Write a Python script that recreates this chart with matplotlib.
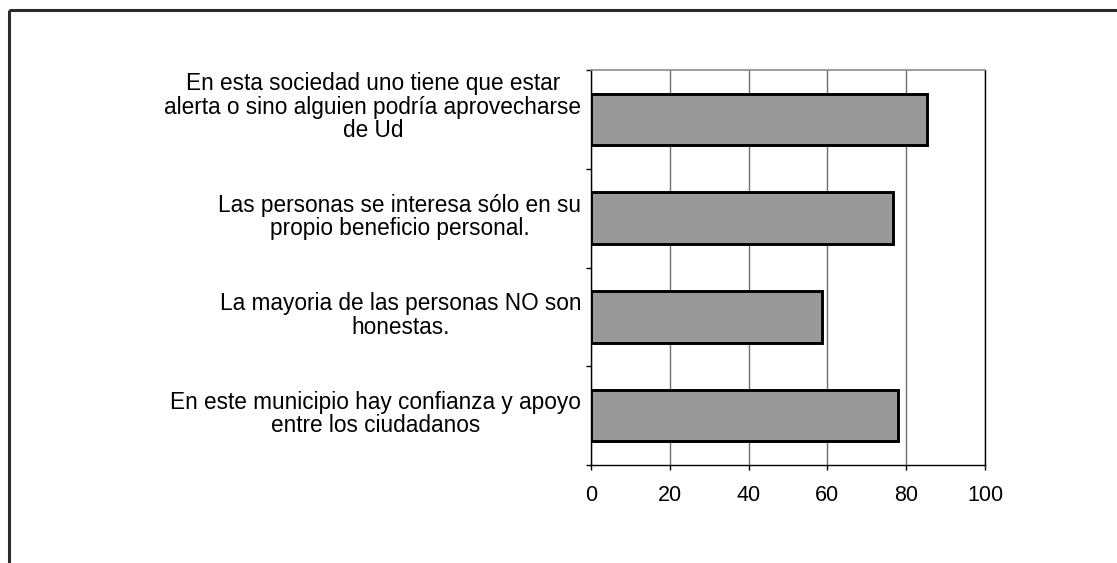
import matplotlib
matplotlib.use("Agg")
import matplotlib.pyplot as plt
import matplotlib.transforms as mtransforms
from matplotlib.lines import Line2D

categories = [
    "En esta sociedad uno tiene que estar\nalerta o sino alguien podría aprovecharse\nde Ud",
    "Las personas se interesa sólo en su\npropio beneficio personal.",
    "La mayoria de las personas NO son\nhonestas.",
    "En este municipio hay confianza y apoyo\nentre los ciudadanos",
]
values = [85.3, 76.7, 58.7, 78.0]
xticks = [0, 20, 40, 60, 80, 100]

plt.rcParams['font.family'] = ['Liberation Sans', 'DejaVu Sans']

fig = plt.figure(figsize=(11.17, 5.63), dpi=100)
W, H = 1117, 563
ax = fig.add_axes([591 / W, 1 - 465 / H, (985 - 591) / W, (465 - 70) / H])

pos = list(range(len(categories)))
ax.barh(pos, values, height=0.52, color='#999999', edgecolor='black', linewidth=2.1, zorder=3)

ax.set_xlim(0, 100)
ax.set_ylim(len(categories) - 0.5, -0.5)
ax.set_xticks(xticks)
ax.set_xticklabels([str(t) for t in xticks], fontsize=15.5)
ax.tick_params(axis='x', direction='out', length=3.5, width=1, pad=11, colors='black')
ax.xaxis.grid(True, color='#6e6e6e', linewidth=1, zorder=0)

ax.set_yticks(pos)
ax.set_yticklabels(categories, fontsize=16.3, multialignment='center', ha='right',
                   linespacing=1.02)
ax.tick_params(axis='y', which='major', length=0, pad=7)
ax.set_yticks([p - 0.5 for p in pos] + [len(pos) - 0.5], minor=True)
ax.tick_params(axis='y', which='minor', direction='out', length=3.5, width=1, color='black')

# shift labels slightly upward (first label more)
for i, lab in enumerate(ax.get_yticklabels()):
    dy = 15 if i == 0 else 4
    lab.set_transform(lab.get_transform() + mtransforms.ScaledTranslation(0, dy / 100, fig.dpi_scale_trans))

for s in ['left', 'bottom', 'right']:
    ax.spines[s].set_color('black')
    ax.spines[s].set_linewidth(1)
ax.spines['top'].set_color('#8c8c8c')
ax.spines['top'].set_linewidth(1.2)

# outer frame
fig.add_artist(Line2D([9.5 / W, 1.01], [1 - 9.5 / H, 1 - 9.5 / H], transform=fig.transFigure,
                      color='#2a2a2a', linewidth=2.2, solid_capstyle='butt'))
fig.add_artist(Line2D([9.5 / W, 9.5 / W], [1 - 9.5 / H, -0.01], transform=fig.transFigure,
                      color='#2a2a2a', linewidth=2.2, solid_capstyle='butt'))

fig.savefig("out.png", dpi=100, facecolor='white')
